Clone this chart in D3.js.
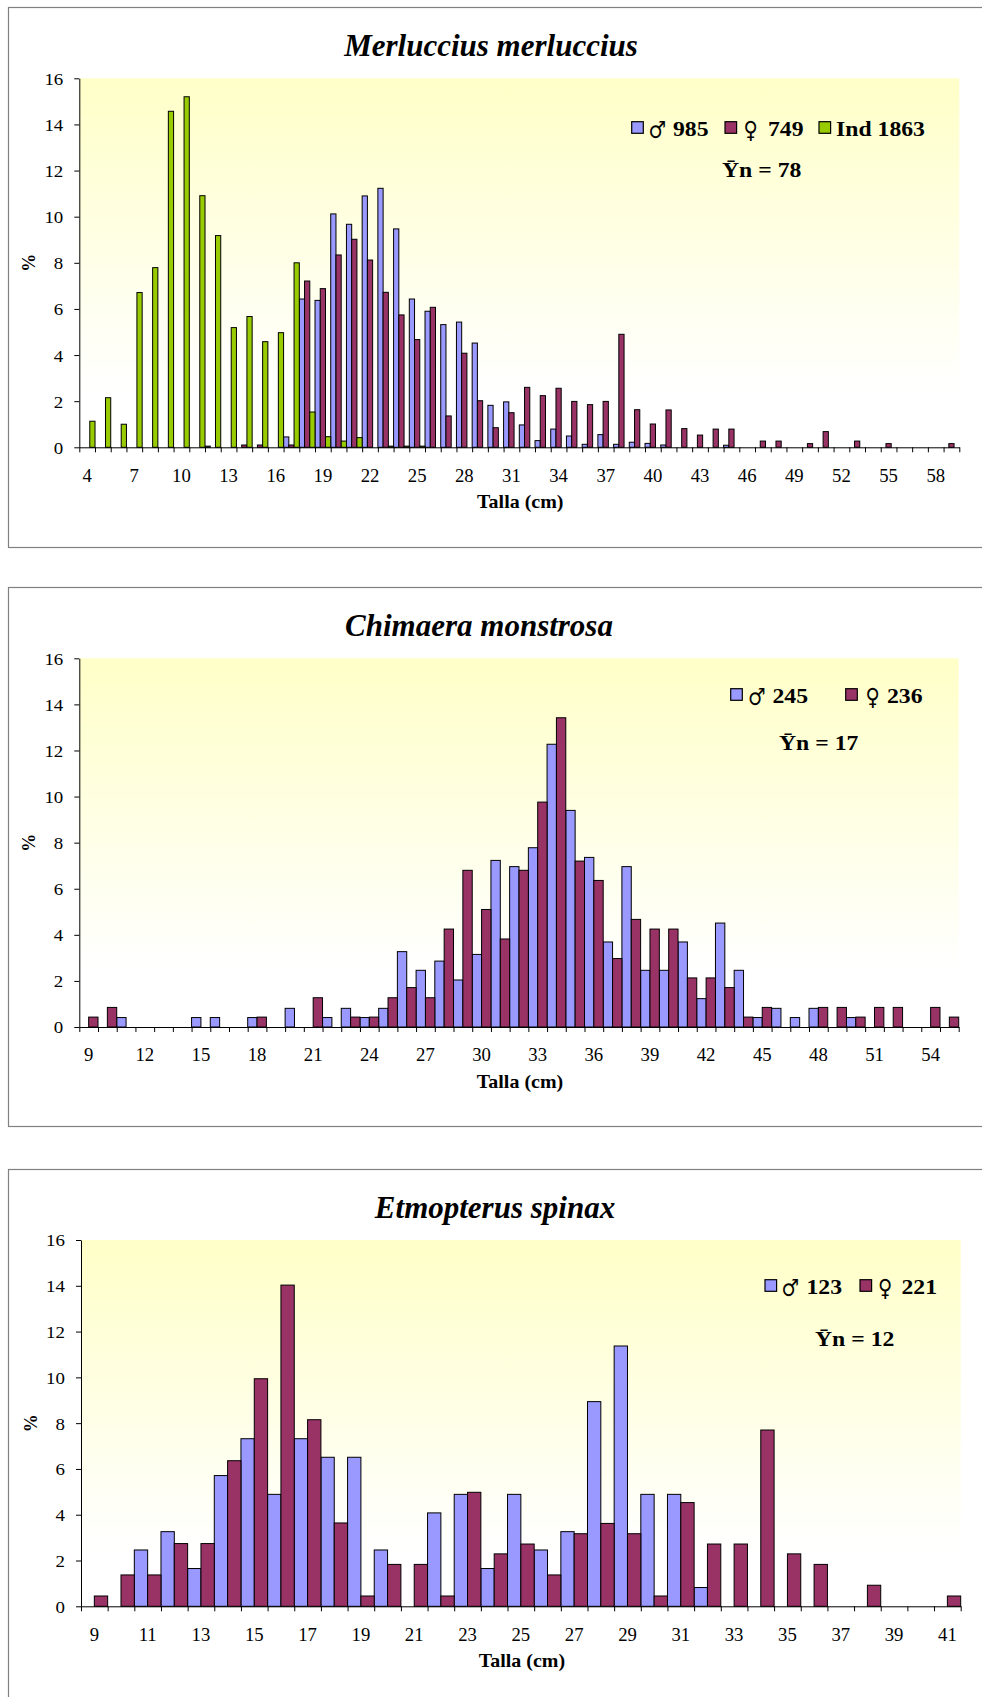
<!DOCTYPE html>
<html><head><meta charset="utf-8">
<script src="https://cdn.jsdelivr.net/npm/d3@7"></script>
<style>body{margin:0;background:#fff;} svg{display:block}</style>
</head><body>
<svg id="chart" width="982" height="1697"></svg>
<script>
// ---------------- DATA ----------------
// Panel 1: Merluccius merluccius (length classes 4..59 cm)
const merlLengths = [4,5,6,7,8,9,10,11,12,13,14,15,16,17,18,19,20,21,22,23,24,25,26,27,28,29,30,31,32,33,34,35,36,37,38,39,40,41,42,43,44,45,46,47,48,49,50,51,52,53,54,55,56,57,58,59];
const merlMale   = [0,0,0,0,0,0,0,0,0.05,0,0,0,0,0.45,6.43,6.37,10.12,9.67,10.9,11.23,9.47,6.43,5.9,5.32,5.43,4.52,1.82,1.97,0.97,0.29,0.79,0.49,0.13,0.55,0.13,0.22,0.17,0.1,0,0,0,0.09,0,0,0,0,0,0,0,0,0,0,0,0,0,0];
const merlFemale = [0,0,0,0,0,0,0,0,0,0,0.1,0.1,0,0.1,7.21,6.88,8.34,9.02,8.12,6.72,5.74,4.67,6.07,1.36,4.08,2.02,0.85,1.5,2.6,2.24,2.56,1.99,1.85,1.99,4.9,1.63,1.01,1.62,0.81,0.53,0.79,0.79,0,0.27,0.27,0,0.16,0.68,0,0.27,0,0.16,0,0,0,0.16];
const merlInd    = [1.13,2.15,1.0,6.71,7.79,14.57,15.2,10.91,9.18,5.19,5.67,4.58,4.97,8.0,1.53,0.46,0.27,0.42,0,0.05,0.05,0.05,0,0,0,0,0,0,0,0,0,0,0,0,0,0,0,0,0,0,0,0,0,0,0,0,0,0,0,0,0,0,0,0,0,0];
const merlTickLabels = [4,7,10,13,16,19,22,25,28,31,34,37,40,43,46,49,52,55,58];
const merlLegend = ["985","749","1863"];
const merlYn = "78";

// Panel 2: Chimaera monstrosa (length classes 9..55 cm)
const chimLengths = [9,10,11,12,13,14,15,16,17,18,19,20,21,22,23,24,25,26,27,28,29,30,31,32,33,34,35,36,37,38,39,40,41,42,43,44,45,46,47,48,49,50,51,52,53,54,55];
const chimMale   = [0,0,0.41,0,0,0,0.41,0.41,0,0.41,0,0.81,0,0.41,0.81,0.41,0.81,3.27,2.46,2.86,2.04,3.15,7.23,6.96,7.78,12.27,9.4,7.36,3.69,6.96,2.46,2.46,3.69,1.23,4.51,2.46,0.41,0.81,0.41,0.81,0,0.41,0,0,0,0,0];
const chimFemale = [0.43,0.85,0,0,0,0,0,0,0,0.43,0,0,1.27,0,0.43,0.43,1.27,1.71,1.27,4.25,6.8,5.1,3.82,6.8,9.76,13.42,7.2,6.36,2.97,4.67,4.25,4.25,2.13,2.13,1.71,0.43,0.85,0,0,0.85,0.85,0.43,0.85,0.85,0,0.85,0.43];
const chimTickLabels = [9,12,15,18,21,24,27,30,33,36,39,42,45,48,51,54];
const chimLegend = ["245","236"];
const chimYn = "17";

// Panel 3: Etmopterus spinax (length classes 9..41 cm)
const etmoLengths = [9,10,11,12,13,14,15,16,17,18,19,20,21,22,23,24,25,26,27,28,29,30,31,32,33,34,35,36,37,38,39,40,41];
const etmoMale   = [0,0,2.46,3.26,1.65,5.71,7.32,4.89,7.32,6.51,6.51,2.46,0,4.08,4.89,1.65,4.89,2.46,3.26,8.94,11.37,4.89,4.89,0.82,0,0,0,0,0,0,0,0,0];
const etmoFemale = [0.45,1.37,1.37,2.74,2.74,6.36,9.94,14.03,8.15,3.64,0.45,1.83,1.83,0.45,4.98,2.29,2.72,1.37,3.17,3.62,3.17,0.45,4.53,2.72,2.72,7.7,2.29,1.83,0,0.92,0,0,0.45];
const etmoTickLabels = [9,11,13,15,17,19,21,23,25,27,29,31,33,35,37,39,41];
const etmoLegend = ["123","221"];
const etmoYn = "12";

const yTicks = [0,2,4,6,8,10,12,14,16];

// ---------------- STYLE ----------------
const SERIF = "'Liberation Serif','Times New Roman',serif";
const SYM = "'DejaVu Sans ExtraLight','DejaVu Sans',sans-serif";
const COL = {male:"#9999FF", female:"#993366", ind:"#99CC00"};

const svg = d3.select("#chart");
const defs = svg.append("defs");
const grad = defs.append("linearGradient").attr("id","bg").attr("x1",0).attr("y1",0).attr("x2",0).attr("y2",1);
grad.append("stop").attr("offset","0%").attr("stop-color","#FFFFC8");
grad.append("stop").attr("offset","85%").attr("stop-color","#FFFFFF");
grad.append("stop").attr("offset","100%").attr("stop-color","#FFFFFF");

function stext(sel, x, y, str, o) {
  return sel.append("text")
    .attr("transform", `translate(${x},${y}) scale(${o.sx||1},1)`)
    .attr("text-anchor", o.anchor || "start")
    .style("font-family", o.family || SERIF)
    .style("font-size", o.size + "px")
    .style("font-weight", o.weight || "normal")
    .style("font-style", o.style || "normal")
    .attr("fill", "#000")
    .text(str);
}

const panels = [
  { title:"Merluccius merluccius", lengths:merlLengths, labels:merlTickLabels,
    series:[{key:"male",vals:merlMale},{key:"female",vals:merlFemale},{key:"ind",vals:merlInd}],
    frameTop:7, frameBottom:547, left:79.3, right:959.3, top:78.3, bottom:447.3, titleX:491,
    legend:[{key:"male",sq:631.7,sym:"♂",symX:648.5,txt:merlLegend[0],txtX:673},
            {key:"female",sq:725,sym:"♀",symX:743.5,txt:merlLegend[1],txtX:768},
            {key:"ind",sq:819,sym:"",symX:0,txt:"Ind "+merlLegend[2],txtX:836}],
    legY:136, yn:merlYn, ynX:722, ynY:177 },
  { title:"Chimaera monstrosa", lengths:chimLengths, labels:chimTickLabels,
    series:[{key:"male",vals:chimMale},{key:"female",vals:chimFemale}],
    frameTop:587, frameBottom:1126, left:79.3, right:958.7, top:658.3, bottom:1027, titleX:479,
    legend:[{key:"male",sq:730.7,sym:"♂",symX:748,txt:chimLegend[0],txtX:772.5},
            {key:"female",sq:845.7,sym:"♀",symX:865.5,txt:chimLegend[1],txtX:887}],
    legY:703, yn:chimYn, ynX:779, ynY:750 },
  { title:"Etmopterus spinax", lengths:etmoLengths, labels:etmoTickLabels,
    series:[{key:"male",vals:etmoMale},{key:"female",vals:etmoFemale}],
    frameTop:1169, frameBottom:1720, left:81, right:960.7, top:1240, bottom:1606.3, titleX:495,
    legend:[{key:"male",sq:765,sym:"♂",symX:781.5,txt:etmoLegend[0],txtX:806.5},
            {key:"female",sq:860,sym:"♀",symX:878,txt:etmoLegend[1],txtX:901.5}],
    legY:1294, yn:etmoYn, ynX:815, ynY:1346 }
];

panels.forEach(p => {
  const g = svg.append("g");
  // frame
  g.append("rect").attr("x",8.5).attr("y",p.frameTop+0.5)
    .attr("width",1000).attr("height",p.frameBottom-p.frameTop)
    .attr("fill","#fff").attr("stroke","#808080").attr("stroke-width",1.2);
  // plot background
  g.append("rect").attr("x",p.left).attr("y",p.top)
    .attr("width",p.right-p.left).attr("height",p.bottom-p.top)
    .attr("fill","url(#bg)");

  const x = d3.scaleBand().domain(p.lengths).range([p.left,p.right]).paddingInner(0).paddingOuter(0);
  const xs = d3.scaleBand().domain(p.series.map(s=>s.key)).range([0,x.bandwidth()]).padding(0);
  const y = d3.scaleLinear().domain([0,16]).range([p.bottom,p.top]);

  // bars
  p.series.forEach(s => {
    g.append("g").selectAll("rect")
      .data(p.lengths.map((L,i)=>({L, v:s.vals[i]})).filter(d=>d.v>0))
      .join("rect")
      .attr("x", d => x(d.L) + xs(s.key))
      .attr("y", d => y(d.v))
      .attr("width", xs.bandwidth())
      .attr("height", d => y(0) - y(d.v))
      .attr("fill", COL[s.key])
      .attr("stroke", "#000").attr("stroke-width", 1);
  });

  // y axis
  const ya = g.append("g").attr("transform",`translate(${p.left},0)`)
    .call(d3.axisLeft(y).tickValues(yTicks).tickSize(5).tickSizeOuter(0).tickFormat(d3.format("d")));
  ya.select(".domain").attr("stroke","#000");
  ya.selectAll(".tick line").attr("stroke","#000");
  const ysx = 1.08;
  ya.selectAll(".tick text")
    .attr("x", -16/ysx).attr("dy","0.34em")
    .attr("transform", `scale(${ysx},1)`)
    .style("font-family", SERIF).style("font-size","17.5px").attr("fill","#000");

  // x axis: boundary ticks
  const n = p.lengths.length;
  const xi = d3.scaleLinear().domain([0,n]).range([p.left,p.right]);
  const xb = g.append("g").attr("transform",`translate(0,${p.bottom})`)
    .call(d3.axisBottom(xi).tickValues(d3.range(n+1)).tickSize(5).tickSizeOuter(0).tickFormat(""));
  xb.select(".domain").attr("stroke","#000");
  xb.selectAll(".tick line").attr("stroke","#000");
  // x axis: labels
  const xl = g.append("g").attr("transform",`translate(0,${p.bottom})`)
    .call(d3.axisBottom(x).tickValues(p.labels).tickSize(0));
  xl.select(".domain").remove();
  const xsx = 1.04;
  xl.selectAll(".tick text")
    .attr("y", 34.5).attr("dy", 0)
    .attr("transform", `scale(${xsx},1)`)
    .style("font-family", SERIF).style("font-size","18px").attr("fill","#000");

  // axis titles
  stext(g, (p.left+p.right)/2 + 1, p.bottom + 61, "Talla (cm)", {size:18.5, weight:"bold", anchor:"middle", sx:1.08});
  g.append("text")
    .attr("transform", `translate(${p.left-44},${(p.top+p.bottom)/2}) rotate(-90)`)
    .attr("text-anchor","middle")
    .style("font-family", SERIF).style("font-size","18px").style("font-weight","bold")
    .text("%");

  // title
  stext(g, p.titleX, p.frameTop + 49, p.title, {size:31, weight:"bold", style:"italic", anchor:"middle"});

  // legend
  p.legend.forEach(it => {
    g.append("rect").attr("x", it.sq).attr("y", p.legY - 14.3).attr("width", 11.6).attr("height", 11.6)
      .attr("fill", COL[it.key]).attr("stroke","#000").attr("stroke-width",1.2);
    if (it.sym) stext(g, it.symX, p.legY + 2, it.sym, {size:24, family:SYM, sx:0.82});
    stext(g, it.txtX, p.legY, it.txt, {size:21, weight:"bold", sx:1.13});
  });
  stext(g, p.ynX, p.ynY, "Ȳn = " + p.yn, {size:21, weight:"bold", sx:1.13});
});
</script>
</body></html>
